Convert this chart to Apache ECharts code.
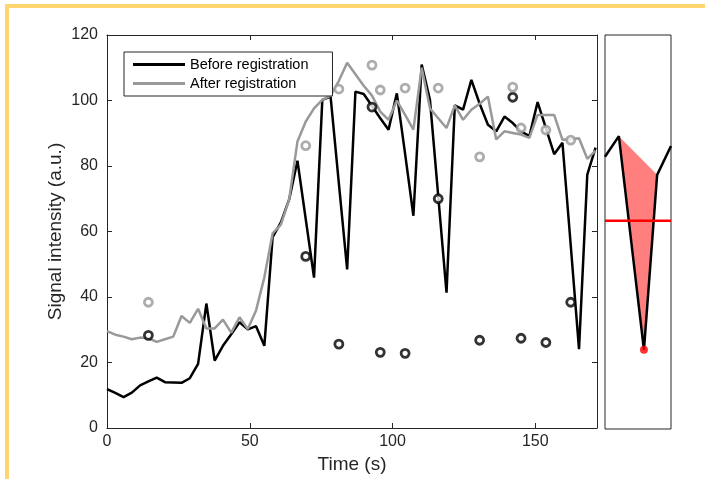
<!DOCTYPE html>
<html>
<head>
<meta charset="utf-8">
<script src="https://cdn.jsdelivr.net/npm/echarts@6/dist/echarts.min.js"></script>
<style>
html,body{margin:0;padding:0;background:#fff;}
#chart{width:705px;height:479px;}
</style>
</head>
<body>
<div id="chart"></div>
<script>
// ---- data ----
const times = [0,2.9,5.8,8.7,11.6,14.5,17.4,20.3,23.2,26.1,29,31.9,34.8,37.7,40.6,43.5,46.4,49.3,52.2,55.1,58,60.9,63.8,66.7,69.6,72.5,75.4,78.3,81.2,84.1,87,89.9,92.8,95.7,98.6,101.5,104.4,107.3,110.2,113.1,116,118.9,121.8,124.7,127.6,130.5,133.4,136.3,139.2,142.1,145,147.9,150.8,153.7,156.6,159.5,162.4,165.3,168.2,171.1];
const beforeReg = [11.9,10.7,9.4,10.8,13.0,14.2,15.4,14.0,13.9,13.8,15.2,19.6,38.0,20.6,25.1,28.6,32.3,30.1,31.1,25.1,58.3,62.8,69.8,81.6,63.8,45.9,100.2,101.2,74.7,48.4,102.7,102.0,98.3,94.6,91.1,102.2,83.7,64.8,111.0,100.2,70.8,41.3,98.5,97.2,106.3,99.0,92.6,90.6,95.1,93.1,90.6,89.1,99.5,91.6,83.6,87.1,55.8,24.1,77.4,85.6];
const afterReg = [29.6,28.5,27.9,27.1,27.6,27.4,26.3,27.1,27.9,34.2,32.1,36.4,30.4,30.4,33.1,29.1,33.8,30.2,35.9,46.0,59.4,62.1,69.8,87.5,93.6,97.6,100.2,101.5,106.0,111.5,108.0,104.5,101.5,96.6,94.1,100.0,95.6,91.1,110.0,97.6,94.6,91.6,98.5,94.1,97.2,99.0,101.2,88.1,90.6,90.1,89.6,88.6,95.6,95.6,95.6,88.0,88.2,88.5,82.2,84.7];
const outlierTimes = [14.5,69.6,81.2,92.8,95.7,104.4,116,130.5,142.1,145,153.7,162.4];
const outlierBefore = [28.3,52.4,25.6,98.0,23.1,22.8,70.0,26.8,101.0,27.4,26.1,38.4];
const outlierAfter = [38.4,86.2,103.5,110.8,103.2,103.8,103.8,82.8,104.1,91.6,91.0,87.9];
const xTicks = [0,50,100,150];
const yTicks = [0,20,40,60,80,100,120];
// inset panel (schematic)
const panelX = [0,2.1,5.9,7.9,10];
const panelSignal = [82.9,89.2,24.1,77.4,86.2];
const fillIdx = [1,3,2];
const thresholdValue = 63.4;
const outlierPointIdx = 2;

const FONT = 'Liberation Sans, Arial, Helvetica, sans-serif';
const AX = '#262626';
const zip = (a,b) => a.map((v,i)=>[v,b[i]]);

const chart = echarts.init(document.getElementById('chart'), null, {renderer:'canvas'});

function common(){
  return {
    axisLine:{show:true,onZero:false,lineStyle:{color:AX,width:1}},
    axisTick:{show:true,inside:true,length:5,lineStyle:{color:AX,width:1}},
    splitLine:{show:false}
  };
}

const option = {
  animation:false,
  backgroundColor:'#fff',
  graphic:[
    {type:'rect',shape:{x:5,y:4,width:700,height:4},style:{fill:'#FFD56F'},silent:true},
    {type:'rect',shape:{x:5,y:4,width:4,height:475},style:{fill:'#FFD56F'},silent:true}
  ],
  legend:{
    data:[{name:'Before registration',icon:'rect'},{name:'After registration',icon:'rect'}],
    orient:'vertical', left:124, top:52,
    itemWidth:52, itemHeight:3, itemGap:4, itemTextGap:5,
    padding:[5,24,5,9],
    borderColor:AX, borderWidth:1, backgroundColor:'#fff',
    textStyle:{fontSize:14.5,color:'#000',fontFamily:FONT}
  },
  grid:[
    {left:107,right:108,top:35,bottom:50,containLabel:false},
    {left:605,width:66,top:35,bottom:50,show:true,borderColor:AX,borderWidth:1,backgroundColor:'transparent'}
  ],
  xAxis:[
    Object.assign({type:'value',gridIndex:0,min:0,max:171.6,interval:50,position:'bottom',
      name:'Time (s)',nameLocation:'middle',nameGap:27,nameMoveOverlap:false,
      nameTextStyle:{fontSize:19,color:AX,fontFamily:FONT},
      axisLabel:{fontSize:16,color:AX,fontFamily:FONT,margin:6,showMaxLabel:false,
        formatter:v=>xTicks.includes(v)?String(v):''}},common()),
    Object.assign({type:'value',gridIndex:0,min:0,max:171.6,interval:50,position:'top',
      axisLabel:{show:false}},common()),
    {type:'value',gridIndex:1,min:0,max:10,show:false},
  ],
  yAxis:[
    Object.assign({type:'value',gridIndex:0,min:0,max:120,interval:20,position:'left',
      name:'Signal intensity (a.u.)',nameLocation:'middle',nameGap:42,nameMoveOverlap:false,
      nameTextStyle:{fontSize:19,color:AX,fontFamily:FONT},
      axisLabel:{fontSize:16,color:AX,fontFamily:FONT,margin:9,
        formatter:v=>yTicks.includes(v)?String(v):''}},common()),
    Object.assign({type:'value',gridIndex:0,min:0,max:120,interval:20,position:'right',
      axisLabel:{show:false}},common()),
    {type:'value',gridIndex:1,min:0,max:120,show:false}
  ],
  series:[
    {name:'Before registration',type:'line',xAxisIndex:0,yAxisIndex:0,data:zip(times,beforeReg),
      showSymbol:false,symbol:'none',color:'#000',lineStyle:{color:'#000',width:2.5},z:2},
    {name:'After registration',type:'line',xAxisIndex:0,yAxisIndex:0,data:zip(times,afterReg),
      showSymbol:false,symbol:'none',color:'#999999',lineStyle:{color:'#999999',width:2.5},z:3},
    {type:'scatter',xAxisIndex:0,yAxisIndex:0,data:zip(outlierTimes,outlierBefore),
      symbol:'circle',symbolSize:8,itemStyle:{color:'#fff',borderColor:'#000',borderWidth:2.8},z:4},
    {type:'scatter',xAxisIndex:0,yAxisIndex:0,data:zip(outlierTimes,outlierAfter),
      symbol:'circle',symbolSize:8,itemStyle:{color:'#fff',borderColor:'#999999',borderWidth:2.8},z:4},
    // inset
    {type:'custom',xAxisIndex:2,yAxisIndex:2,data:[[0,0]],
      renderItem:(params,api)=>({type:'polygon',
        shape:{points:fillIdx.map(k=>api.coord([panelX[k],panelSignal[k]]))},
        style:{fill:'rgba(255,0,0,0.5)'}}),z:1},
    {type:'line',xAxisIndex:2,yAxisIndex:2,data:zip(panelX,panelSignal),showSymbol:false,symbol:'none',
      lineStyle:{color:'#000',width:2.5},z:2},
    {type:'line',xAxisIndex:2,yAxisIndex:2,data:[[panelX[0],thresholdValue],[panelX[panelX.length-1],thresholdValue]],
      showSymbol:false,symbol:'none',lineStyle:{color:'#ff0000',width:2.5},z:3},
    {type:'scatter',xAxisIndex:2,yAxisIndex:2,data:[[panelX[outlierPointIdx],panelSignal[outlierPointIdx]]],
      symbol:'circle',symbolSize:8,itemStyle:{color:'#ff0000'},z:4}
  ]
};
chart.setOption(option);
</script>
</body>
</html>
